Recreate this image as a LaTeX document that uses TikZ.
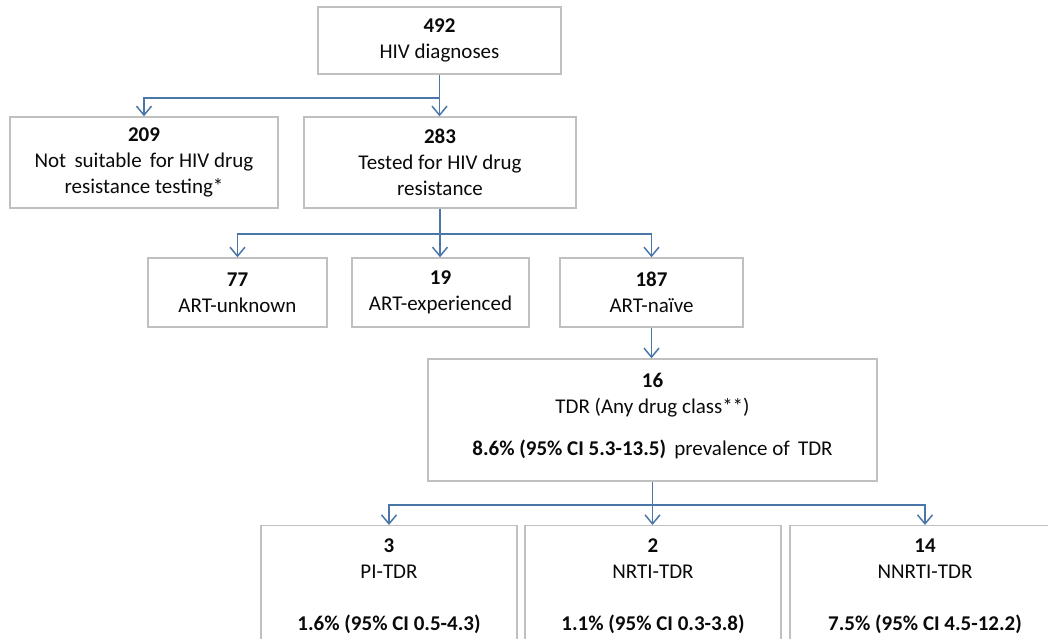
\documentclass[tikz,border=0pt]{standalone}
\usepackage{fontspec}
\setmainfont{Carlito}
\usetikzlibrary{arrows.meta}
\definecolor{boxgray}{RGB}{192,192,192}
\definecolor{arrblue}{RGB}{74,118,168}
\definecolor{txt}{RGB}{10,10,10}
\begin{document}
\begin{tikzpicture}[x=1pt,y=-1pt,
  box/.style={draw=boxgray,line width=1.4pt,align=center,inner sep=0pt,
    font=\fontsize{21}{26}\selectfont,text=txt},
  botbox/.style={box,anchor=north,inner ysep=13pt,text depth=200pt},
  ln/.style={draw=arrblue,line width=1.6pt},
  arr/.style={ln,-{Straight Barb[length=9pt,width=15pt,line width=1.5pt]}}]
\useasboundingbox (0,0) rectangle (1048,638);
\node[box,minimum width=243,minimum height=67] (top) at (439.5,40.5) {\textbf{492}\\HIV diagnoses};
\node[box,minimum width=268,minimum height=91] (n209) at (144,162.5) {\textbf{209}\\Not\, suitable\, for HIV drug\\resistance testing*};
\node[box,minimum width=272,minimum height=91] (n283) at (440,162.5) {\textbf{283}\\Tested for HIV drug\\resistance};
\node[box,minimum width=179,minimum height=69] (n77) at (237.5,292.5) {\textbf{77}\\ART-unknown};
\node[box,minimum width=177,minimum height=69] (n19) at (440.5,292.5) {\textbf{19}\\ART-experienced};
\node[box,minimum width=183,minimum height=69] (n187) at (651.5,292.5) {\textbf{187}\\ART-naïve};
\node[box,minimum width=449,minimum height=122,text depth=12pt] (n16) at (652.5,420) {\textbf{16}\\TDR (Any drug class**)\\[16pt]\textbf{8.6\% (95\% CI 5.3-13.5)}\, prevalence of\, TDR};
\node[botbox,minimum width=256] (n3) at (389,525) {\textbf{3}\\PI-TDR\\[26pt]\textbf{1.6\% (95\% CI 0.5-4.3)}};
\node[botbox,minimum width=256] (n2) at (653,525) {\textbf{2}\\NRTI-TDR\\[26pt]\textbf{1.1\% (95\% CI 0.3-3.8)}};
\node[botbox,minimum width=270] (n14) at (925,525) {\textbf{14}\\NNRTI-TDR\\[26pt]\textbf{7.5\% (95\% CI 4.5-12.2)}};
% connectors
\draw[ln] (top.south) -- ++(0,23) coordinate (j1);
\draw[arr] (j1) -| (n209.north);
\draw[arr] (j1) -- (j1 |- n283.north);
\draw[ln] (n283.south) -- ++(0,25) coordinate (j2);
\draw[arr] (j2) -| (n77.north);
\draw[arr] (j2) -- (j2 |- n19.north);
\draw[arr] (j2) -| (n187.north);
\draw[arr] (n187.south) -- (n187.south |- n16.north);
\draw[ln] (n16.south) -- ++(0,23) coordinate (j3);
\draw[arr] (j3) -| (n3.north);
\draw[arr] (j3) -- (j3 |- n2.north);
\draw[arr] (j3) -| (n14.north);
\end{tikzpicture}
\end{document}
